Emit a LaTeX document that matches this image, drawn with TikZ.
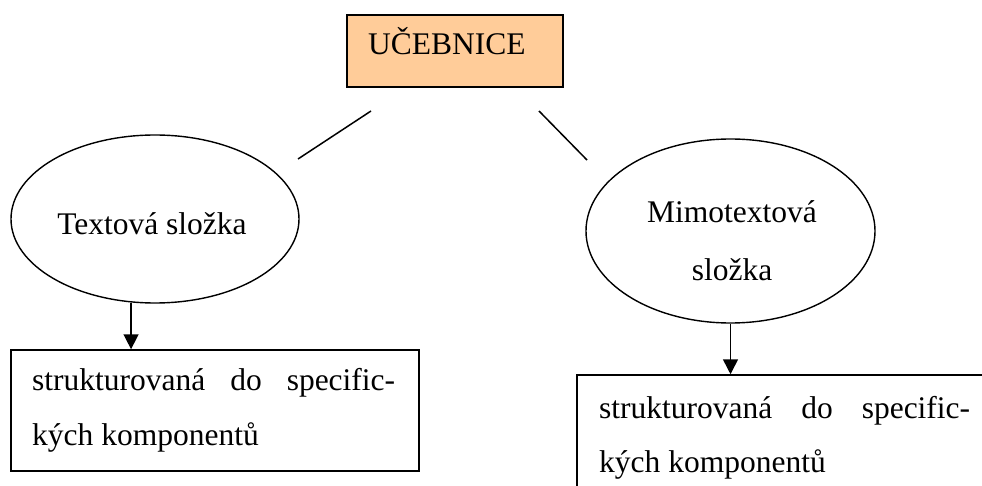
\documentclass[tikz,border=0pt]{standalone}
\usepackage{fontspec}
\setmainfont{Liberation Serif}
\usetikzlibrary{shapes.geometric,arrows.meta}
\definecolor{peach}{RGB}{255,204,153}
\begin{document}
\begin{tikzpicture}[x=1pt,y=-1pt,
  txt/.style={font=\fontsize{31.5}{36}\selectfont, inner sep=0pt, anchor=base west},
  ctxt/.style={font=\fontsize{31.5}{36}\selectfont, inner sep=0pt, anchor=base},
  ell/.style={draw, ellipse, line width=1.4pt, inner sep=0pt},
  boxn/.style={draw, line width=1.5pt, inner sep=0pt},
  conn/.style={line width=1.5pt},
  arr/.style={line width=1.5pt, -{Triangle[length=15pt,width=15pt]}}]
\useasboundingbox (0,0) rectangle (982,486);
\clip (0,0) rectangle (982,486);
% top box
\node[boxn, fill=peach, minimum width=216pt, minimum height=72pt] (top) at (455,51) {};
\node[txt] (toptext) at (368,55) {UČEBNICE};
% ellipses
\node[ell, minimum width=288pt, minimum height=168pt] (el) at (155,219) {};
\node[ctxt] (eltext) at (152,235) {Textová složka};
\node[ell, minimum width=289pt, minimum height=184pt] (er) at (730.5,231) {};
\node[ctxt] (ertext1) at (732,223) {Mimotextová};
\node[ctxt] (ertext2) at (732,280) {složka};
% free connectors
\coordinate (a1) at (298,159);
\coordinate (a2) at (371,111);
\coordinate (b1) at (539,111);
\coordinate (b2) at (587,160);
\draw[conn] (a1) -- (a2);
\draw[conn] (b1) -- (b2);
% bottom boxes
\node[boxn, minimum width=408pt, minimum height=121pt] (bl) at (215,410.5) {};
\node[txt] (bl1) at (32,390) {\makebox[363pt][s]{strukturovaná\hfill do\hfill specific-}};
\node[txt] (bl2) at (32,445) {kých komponentů};
\node[boxn, minimum width=423pt, minimum height=135pt] (br) at (788.5,442.5) {};
\node[txt] (br1) at (599,418) {\makebox[371pt][s]{strukturovaná\hfill do\hfill specific-}};
\node[txt] (br2) at (599,472) {kých komponentů};
% arrows
\draw[arr] (el.254) -- (el.254 |- bl.north);
\draw[arr] (er.south) -- (er.south |- br.north);
\end{tikzpicture}
\end{document}
